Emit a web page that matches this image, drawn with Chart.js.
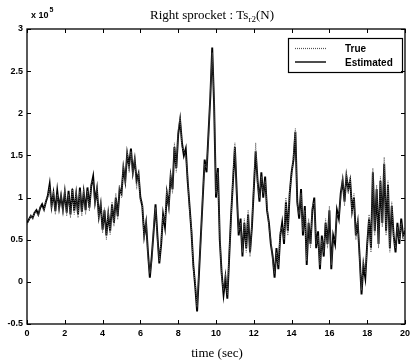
<!DOCTYPE html>
<html>
<head>
<meta charset="utf-8">
<script src="https://cdn.jsdelivr.net/npm/chart.js@4.4.1/dist/chart.umd.min.js"></script>
<style>
    html, body { margin: 0; padding: 0; background: #fff; }
    #wrap { width: 414px; height: 364px; position: relative; }
</style>
</head>
<body>
<div id="wrap"><canvas id="sprocketChart" width="414" height="364"></canvas></div>
<script>
// sample step of both series (seconds), values in units of 1e5 N
const sampleStep = 0.1

const xTicks = [0, 2, 4, 6, 8, 10, 12, 14, 16, 18, 20]
const yTicks = [-0.5, 0, 0.5, 1, 1.5, 2, 2.5, 3]

const estimatedValues = [
    0.70, 0.74, 0.78, 0.76, 0.82, 0.85, 0.80, 0.88, 0.92, 0.86, 0.95,
    1.02, 1.16, 0.90, 1.05, 0.84, 1.08, 0.88, 1.02, 0.86, 1.06,
    0.82, 1.08, 0.80, 1.10, 0.84, 1.04, 0.80, 1.12, 0.83, 1.06,
    0.85, 1.12, 0.88, 1.14, 1.25, 0.95, 1.10, 0.78, 0.92, 0.62,
    0.85, 0.55, 0.80, 0.60, 0.92, 0.70, 1.00, 0.78, 1.10, 1.05,
    1.35, 1.20, 1.52, 1.38, 1.58, 1.30, 1.45, 1.20, 1.28, 1.00,
    0.90, 0.55, 0.70, 0.35, 0.05, 0.30, 0.60, 0.92, 0.55, 0.22,
    0.45, 0.80, 0.65, 1.05, 0.90, 1.25, 1.10, 1.60, 1.35, 1.75,
    1.92, 1.65, 1.50, 1.58, 1.20, 0.90, 0.60, 0.20, -0.05, -0.35,
    0.10, 0.55, 1.00, 1.45, 1.30, 1.75, 2.20, 2.78, 2.10, 1.00,
    1.35, 0.50, 0.10, -0.15, 0.05, -0.20, 0.30, 0.80, 1.20, 1.60,
    1.05, 0.55, 0.75, 0.30, 0.70, 0.40, 0.80, 0.35, 0.65, 1.10,
    1.55, 1.20, 0.95, 1.30, 1.00, 1.25, 0.85, 0.70, 0.45, 0.30,
    0.05, 0.40, 0.15, 0.55, 0.70, 0.45, 0.95, 0.60, 1.05, 1.30,
    1.45, 1.78, 0.95, 0.75, 1.10, 0.55, 0.90, 0.20, 0.70, 0.45,
    0.85, 1.00, 0.40, 0.60, 0.15, 0.55, 0.30, 0.70, 0.45, 0.85,
    0.15, 0.55, 0.45, 0.85, 0.75, 1.05, 1.20, 0.95, 1.25, 1.10,
    1.20, 0.85, 1.00, 0.55, 0.70, 0.30, -0.15, 0.20, 0.05, 0.45,
    0.75, 0.40, 1.30, 0.60, 1.10, 0.45, 1.20, 0.70, 1.40, 0.60,
    1.15, 0.40, 0.90, 0.55, 0.35, 0.70, 0.45, 0.75, 0.55, 0.60,
]

const trueValues = [
    0.68, 0.72, 0.80, 0.74, 0.84, 0.82, 0.78, 0.90, 0.88, 0.84, 0.98,
    1.00, 1.12, 0.86, 1.08, 0.80, 1.04, 0.84, 1.06, 0.80, 1.10,
    0.78, 1.04, 0.76, 1.12, 0.80, 1.08, 0.76, 1.08, 0.78, 1.10,
    0.80, 1.08, 0.84, 1.18, 1.20, 0.90, 1.14, 0.72, 0.96, 0.58,
    0.88, 0.50, 0.84, 0.56, 0.95, 0.66, 1.05, 0.74, 1.15, 1.00,
    1.40, 1.15, 1.55, 1.30, 1.55, 1.25, 1.48, 1.10, 1.30, 0.95,
    0.95, 0.50, 0.75, 0.30, 0.10, 0.25, 0.65, 0.88, 0.50, 0.25,
    0.50, 0.78, 0.70, 1.10, 0.85, 1.30, 1.05, 1.65, 1.30, 1.80,
    1.95, 1.60, 1.55, 1.50, 1.25, 0.85, 0.65, 0.15, 0.00, -0.30,
    0.15, 0.50, 1.05, 1.40, 1.35, 1.70, 2.25, 2.72, 2.15, 1.05,
    1.30, 0.55, 0.05, -0.10, 0.10, -0.15, 0.35, 0.75, 1.25, 1.65,
    1.00, 0.60, 0.70, 0.35, 0.75, 0.35, 0.85, 0.30, 0.70, 1.15,
    1.65, 1.15, 1.00, 1.25, 1.05, 1.20, 0.90, 0.65, 0.50, 0.25,
    0.10, 0.35, 0.20, 0.60, 0.65, 0.50, 1.00, 0.55, 1.10, 1.25,
    1.50, 1.82, 0.90, 0.80, 1.05, 0.60, 0.85, 0.25, 0.75, 0.40,
    0.90, 0.95, 0.45, 0.55, 0.20, 0.50, 0.35, 0.75, 0.40, 0.90,
    0.20, 0.50, 0.50, 0.80, 0.80, 1.00, 1.25, 0.90, 1.30, 1.05,
    1.25, 0.80, 1.05, 0.50, 0.75, 0.25, -0.10, 0.25, 0.10, 0.40,
    0.80, 0.35, 1.35, 0.55, 1.15, 0.40, 1.25, 0.65, 1.48, 0.55,
    1.20, 0.35, 0.95, 0.50, 0.40, 0.65, 0.50, 0.70, 0.50, 0.65,
]

const toPoints = values => values.map((v, i) => ({ x: +(i * sampleStep).toFixed(2), y: v }))

const serif = '"Liberation Serif", "DejaVu Serif", serif'
const sans = '"Liberation Sans", Arial, sans-serif'

// matlab style frame, inward ticks, title, labels and legend
const matlabFrame = {
    id: 'matlabFrame',
    afterDraw(chart) {
        const ctx = chart.ctx
        const area = chart.chartArea
        const xs = chart.scales.x
        const ys = chart.scales.y
        ctx.save()
        ctx.strokeStyle = '#000'
        ctx.lineWidth = 1.3
        ctx.strokeRect(area.left, area.top, area.right - area.left, area.bottom - area.top)

        ctx.lineWidth = 1
        ctx.beginPath()
        xTicks.forEach(t => {
            const px = Math.round(xs.getPixelForValue(t)) + 0.5
            ctx.moveTo(px, area.bottom); ctx.lineTo(px, area.bottom - 4)
            ctx.moveTo(px, area.top); ctx.lineTo(px, area.top + 4)
        })
        yTicks.forEach(t => {
            const py = Math.round(ys.getPixelForValue(t)) + 0.5
            ctx.moveTo(area.left, py); ctx.lineTo(area.left + 4, py)
            ctx.moveTo(area.right, py); ctx.lineTo(area.right - 4, py)
        })
        ctx.stroke()

        ctx.fillStyle = '#000'
        // title with subscript
        ctx.textBaseline = 'alphabetic'
        const t1 = 'Right sprocket : Ts'
        const t2 = 'r2'
        const t3 = '(N)'
        ctx.font = '13px ' + serif
        const w1 = ctx.measureText(t1).width
        const w3 = ctx.measureText(t3).width
        ctx.font = '9px ' + serif
        const w2 = ctx.measureText(t2).width
        let tx = 212 - (w1 + w2 + w3) / 2
        ctx.font = '13px ' + serif
        ctx.fillText(t1, tx, 19)
        tx += w1
        ctx.font = '9px ' + serif
        ctx.fillText(t2, tx, 22)
        tx += w2
        ctx.font = '13px ' + serif
        ctx.fillText(t3, tx, 19)

        // exponent label
        ctx.font = 'bold 9px ' + sans
        ctx.fillText('x 10', 31, 18)
        const wx = ctx.measureText('x 10').width
        ctx.font = 'bold 7px ' + sans
        ctx.fillText('5', 31 + wx + 1, 12)

        // x axis label
        ctx.font = '13px ' + serif
        ctx.textAlign = 'center'
        ctx.fillText('time (sec)', 217, 357)

        // legend
        ctx.textAlign = 'left'
        ctx.lineWidth = 1.2
        ctx.strokeRect(288.5, 38.5, 114, 34)
        ctx.beginPath()
        ctx.setLineDash([1, 1])
        ctx.strokeStyle = '#555'
        ctx.moveTo(295, 48.5); ctx.lineTo(326, 48.5)
        ctx.stroke()
        ctx.setLineDash([])
        ctx.strokeStyle = '#000'
        ctx.lineWidth = 1.4
        ctx.beginPath()
        ctx.moveTo(295, 62); ctx.lineTo(326, 62)
        ctx.stroke()
        ctx.font = 'bold 10px ' + sans
        ctx.fillText('True', 345, 52)
        ctx.fillText('Estimated', 345, 66)
        ctx.restore()
    }
}

const config = {
    type: 'line',
    data: {
        datasets: [{
            label: 'True',
            data: toPoints(trueValues),
            borderColor: '#666',
            borderWidth: 1,
            borderDash: [1, 1],
            pointRadius: 0,
            tension: 0,
        }, {
            label: 'Estimated',
            data: toPoints(estimatedValues),
            borderColor: '#000',
            borderWidth: 1.9,
            pointRadius: 0,
            tension: 0,
        }]
    },
    options: {
        responsive: false,
        animation: false,
        events: [],
        layout: { padding: { top: 29, right: 7, left: 0, bottom: 0 } },
        plugins: { legend: { display: false }, title: { display: false }, tooltip: { enabled: false } },
        scales: {
            x: {
                type: 'linear',
                min: 0,
                max: 20,
                afterBuildTicks: scale => { scale.ticks = xTicks.map(v => ({ value: v })) },
                afterFit: scale => { scale.height = 40 },
                grid: { display: false, tickLength: 0 },
                border: { display: false },
                ticks: { color: '#000', font: { family: sans, size: 9, weight: 'bold' }, padding: 4, maxRotation: 0, callback: v => String(v) },
            },
            y: {
                min: -0.5,
                max: 3,
                afterBuildTicks: scale => { scale.ticks = yTicks.map(v => ({ value: v })) },
                afterFit: scale => { scale.width = 27 },
                grid: { display: false, tickLength: 0 },
                border: { display: false },
                ticks: { color: '#000', font: { family: sans, size: 9, weight: 'bold' }, padding: 4, callback: v => String(v) },
            }
        }
    },
    plugins: [matlabFrame]
}

const myChart = new Chart(document.getElementById('sprocketChart'), config)
</script>
</body>
</html>
